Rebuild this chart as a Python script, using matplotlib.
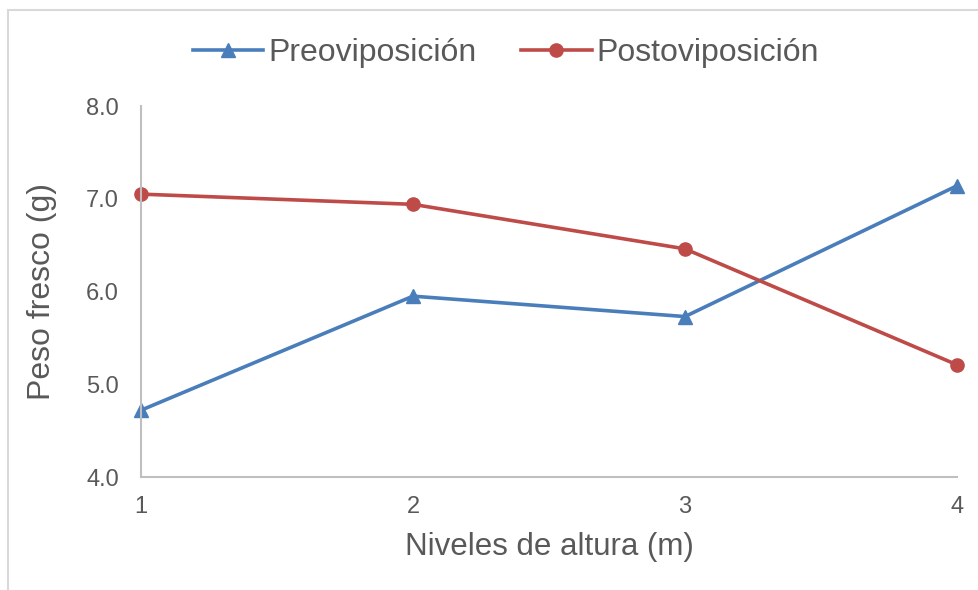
import matplotlib.pyplot as plt
from matplotlib.patches import Rectangle

# datos
niveles = [1, 2, 3, 4]
preoviposicion = [4.72, 5.95, 5.73, 7.14]
postoviposicion = [7.05, 6.94, 6.46, 5.21]

plt.rcParams['font.family'] = ['Liberation Sans', 'DejaVu Sans']

fig = plt.figure(figsize=(9.79, 5.90), dpi=100)
ax = fig.add_axes([0.144, 0.1915, 0.8335, 0.6288])

# marco del gráfico
fig.patches.append(Rectangle((8 / 979, -0.05), 1.1, 1 - 10 / 590 + 0.05,
                             transform=fig.transFigure, fill=False,
                             edgecolor='#d9d9d9', linewidth=1.5))

ax.plot(niveles, preoviposicion, color='#4a7ebb', linewidth=2.6,
        marker='^', markersize=10, label='Preoviposición', clip_on=False)
ax.plot(niveles, postoviposicion, color='#be4b48', linewidth=2.6,
        marker='o', markersize=9.5, label='Postoviposición', clip_on=False)

ax.set_xlim(1, 4)
ax.set_ylim(4.0, 8.0)
ax.set_xticks(niveles)
ax.set_yticks([4.0, 5.0, 6.0, 7.0, 8.0])
ax.set_yticklabels(['4.0', '5.0', '6.0', '7.0', '8.0'])

for s in ['top', 'right']:
    ax.spines[s].set_visible(False)
for s in ['left', 'bottom']:
    ax.spines[s].set_color('#bfbfbf')
    ax.spines[s].set_linewidth(1.5)

ax.tick_params(axis='both', length=0, labelsize=17, labelcolor='#595959')
ax.tick_params(axis='x', pad=14)
ax.tick_params(axis='y', pad=16)

ax.set_xlabel('Niveles de altura (m)', fontsize=22.5, color='#595959', labelpad=10)
ax.set_ylabel('Peso fresco (g)', fontsize=23, color='#595959', labelpad=21)

fig.legend(loc='center', bbox_to_anchor=(506 / 979, 1 - 53 / 590), ncol=2,
           frameon=False, fontsize=23, labelcolor='#595959', handlelength=2.2,
           columnspacing=1.4, handletextpad=0.15)

plt.savefig('out.png')
